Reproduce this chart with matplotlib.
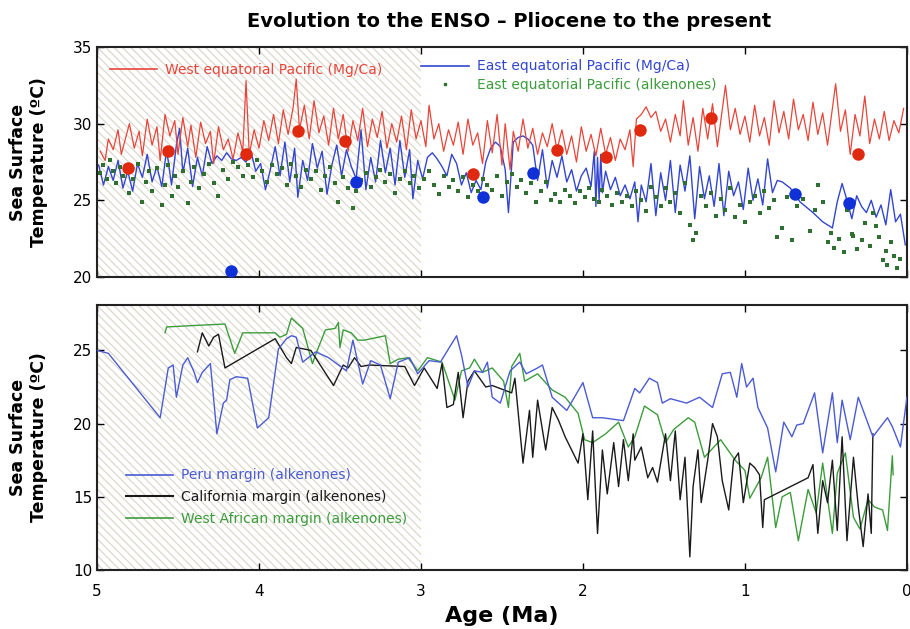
import numpy as np
import matplotlib
matplotlib.use("Agg")
import matplotlib.pyplot as plt
from matplotlib.lines import Line2D

# ---- top panel: equatorial Pacific SST (age Ma, degC) ----
west_pac_mgca = [
    (4.98, 28.2), (4.95, 27.6), (4.93, 29.0), (4.90, 28.3), (4.87, 29.6), (4.85, 28.0), (4.82, 29.2),
    (4.80, 30.0), (4.77, 28.4), (4.74, 29.5), (4.72, 27.9), (4.69, 30.3), (4.66, 28.6), (4.63, 29.8),
    (4.61, 27.6), (4.58, 30.6), (4.55, 29.2), (4.52, 30.2), (4.50, 28.0), (4.47, 30.4), (4.44, 28.5),
    (4.42, 29.9), (4.39, 27.8), (4.36, 30.1), (4.33, 28.7), (4.30, 29.5), (4.28, 27.4), (4.25, 29.8),
    (4.22, 28.3), (4.19, 29.0), (4.16, 27.7), (4.13, 29.4), (4.10, 28.2), (4.08, 32.8), (4.06, 28.0),
    (4.03, 29.6), (4.00, 28.4), (3.97, 30.2), (3.94, 28.9), (3.91, 30.6), (3.88, 28.7), (3.85, 30.9),
    (3.82, 29.3), (3.79, 31.0), (3.77, 32.9), (3.75, 29.6), (3.72, 31.2), (3.69, 29.0), (3.66, 31.5),
    (3.63, 29.4), (3.60, 30.5), (3.57, 28.6), (3.54, 31.0), (3.51, 29.0), (3.48, 30.6), (3.45, 28.2),
    (3.42, 30.2), (3.39, 28.9), (3.36, 31.0), (3.33, 28.5), (3.30, 30.3), (3.27, 29.1), (3.24, 30.8),
    (3.21, 28.4), (3.18, 30.0), (3.15, 28.8), (3.12, 30.5), (3.09, 28.3), (3.06, 30.9), (3.03, 29.0),
    (3.00, 30.2), (2.97, 28.5), (2.95, 31.2), (2.92, 29.0), (2.89, 30.0), (2.86, 28.2), (2.83, 29.6),
    (2.80, 28.6), (2.77, 30.1), (2.74, 28.0), (2.71, 30.3), (2.68, 28.6), (2.65, 29.4), (2.62, 27.4),
    (2.59, 30.2), (2.56, 28.1), (2.53, 30.6), (2.50, 27.3), (2.48, 30.0), (2.45, 27.0), (2.43, 29.5),
    (2.40, 28.2), (2.37, 30.3), (2.34, 28.4), (2.31, 29.7), (2.28, 28.0), (2.25, 29.4), (2.22, 28.5),
    (2.19, 30.0), (2.16, 28.3), (2.13, 29.6), (2.10, 28.0), (2.07, 29.2), (2.04, 27.5), (2.01, 29.8),
    (1.98, 28.2), (1.95, 29.3), (1.92, 27.9), (1.89, 29.7), (1.86, 28.0), (1.83, 29.1), (1.80, 27.6),
    (1.77, 29.0), (1.74, 28.3), (1.71, 29.6), (1.69, 27.2), (1.67, 30.3), (1.64, 30.6), (1.61, 31.1),
    (1.58, 30.4), (1.55, 30.8), (1.52, 29.5), (1.49, 30.3), (1.46, 28.8), (1.43, 30.6), (1.40, 29.2),
    (1.38, 31.5), (1.35, 28.6), (1.32, 30.4), (1.29, 28.2), (1.26, 31.0), (1.23, 29.0), (1.20, 31.3),
    (1.17, 28.5), (1.14, 30.9), (1.12, 32.5), (1.09, 29.6), (1.06, 31.0), (1.03, 29.3), (1.00, 30.5),
    (0.97, 28.8), (0.94, 31.2), (0.91, 29.2), (0.88, 30.4), (0.85, 28.6), (0.82, 31.5), (0.79, 29.4),
    (0.76, 30.8), (0.73, 29.0), (0.70, 31.6), (0.67, 29.6), (0.64, 30.6), (0.61, 28.9), (0.58, 31.4),
    (0.55, 29.3), (0.52, 30.7), (0.49, 28.6), (0.46, 31.0), (0.44, 32.6), (0.41, 29.5), (0.38, 30.9),
    (0.35, 28.0), (0.32, 30.6), (0.29, 29.2), (0.26, 31.8), (0.23, 28.7), (0.20, 30.3), (0.17, 29.0),
    (0.14, 30.8), (0.11, 28.9), (0.08, 30.2), (0.05, 29.4), (0.02, 31.0),
]

east_pac_mgca = [
    (4.99, 27.3), (4.96, 26.0), (4.93, 27.2), (4.90, 26.3), (4.87, 27.6), (4.84, 25.8), (4.81, 26.9),
    (4.78, 25.6), (4.75, 27.4), (4.72, 26.5), (4.69, 28.0), (4.66, 26.2), (4.63, 27.2), (4.60, 25.9),
    (4.57, 28.3), (4.54, 26.0), (4.51, 28.6), (4.49, 29.7), (4.47, 26.8), (4.44, 28.4), (4.41, 25.9),
    (4.38, 27.8), (4.35, 26.6), (4.32, 28.5), (4.29, 27.4), (4.26, 27.9), (4.23, 27.6), (4.20, 28.1),
    (4.17, 27.7), (4.14, 27.6), (4.11, 27.8), (4.08, 27.5), (4.05, 28.2), (4.02, 26.9), (3.99, 27.4),
    (3.96, 25.7), (3.93, 27.0), (3.90, 28.5), (3.87, 26.6), (3.84, 28.8), (3.81, 26.2), (3.78, 28.4),
    (3.76, 25.2), (3.73, 27.6), (3.70, 26.3), (3.67, 28.7), (3.64, 27.1), (3.61, 28.2), (3.58, 25.4),
    (3.55, 27.3), (3.52, 28.6), (3.49, 26.6), (3.46, 28.3), (3.43, 27.2), (3.40, 26.4), (3.37, 29.6),
    (3.34, 25.7), (3.31, 27.8), (3.28, 26.2), (3.25, 28.9), (3.22, 26.8), (3.19, 28.4), (3.16, 26.0),
    (3.13, 28.9), (3.10, 26.5), (3.07, 28.3), (3.05, 25.1), (3.02, 27.6), (2.99, 26.4), (2.96, 27.8),
    (2.93, 28.1), (2.90, 27.7), (2.87, 27.2), (2.84, 26.6), (2.81, 28.0), (2.78, 27.4), (2.75, 26.0),
    (2.72, 26.8), (2.69, 25.5), (2.66, 26.3), (2.63, 25.7), (2.60, 27.5), (2.57, 28.4), (2.54, 28.8),
    (2.51, 28.5), (2.48, 27.0), (2.46, 24.2), (2.43, 28.8), (2.40, 29.1), (2.37, 29.2), (2.34, 29.0),
    (2.31, 28.6), (2.28, 26.3), (2.25, 28.3), (2.22, 25.8), (2.19, 27.6), (2.16, 26.5), (2.13, 27.9),
    (2.10, 26.2), (2.07, 27.0), (2.04, 25.6), (2.01, 26.6), (1.98, 27.1), (1.95, 25.9), (1.93, 28.2),
    (1.92, 24.6), (1.91, 27.8), (1.90, 25.0), (1.89, 28.0), (1.88, 25.5), (1.86, 26.9), (1.83, 25.7),
    (1.80, 26.5), (1.77, 25.3), (1.74, 26.0), (1.71, 25.1), (1.68, 26.2), (1.66, 23.6), (1.64, 26.0),
    (1.61, 24.9), (1.58, 27.4), (1.55, 24.0), (1.52, 26.8), (1.49, 25.0), (1.46, 27.6), (1.43, 24.2),
    (1.40, 27.3), (1.37, 25.6), (1.34, 27.9), (1.31, 23.8), (1.28, 27.2), (1.25, 25.1), (1.22, 26.6),
    (1.19, 24.6), (1.16, 27.4), (1.13, 24.0), (1.10, 26.9), (1.07, 25.3), (1.04, 26.2), (1.01, 24.4),
    (0.98, 27.1), (0.95, 25.0), (0.92, 26.4), (0.89, 24.7), (0.86, 27.7), (0.83, 25.5), (0.80, 26.3),
    (0.77, 26.2), (0.72, 25.8), (0.66, 24.9), (0.58, 24.2), (0.52, 23.6), (0.46, 23.2), (0.43, 24.9),
    (0.40, 26.1), (0.37, 25.0), (0.34, 23.8), (0.31, 25.3), (0.28, 24.6), (0.25, 24.2), (0.22, 25.0),
    (0.19, 23.9), (0.16, 24.7), (0.13, 23.4), (0.10, 25.7), (0.07, 23.6), (0.04, 24.1), (0.01, 22.1),
]

east_pac_alk = [
    (4.98, 26.8), (4.96, 27.3), (4.94, 26.4), (4.92, 27.6), (4.90, 26.9), (4.88, 26.1), (4.86, 27.2),
    (4.84, 26.6), (4.82, 27.0), (4.80, 25.5), (4.78, 26.4), (4.75, 27.4), (4.72, 24.9), (4.70, 26.2),
    (4.68, 26.9), (4.66, 25.6), (4.63, 27.1), (4.60, 24.7), (4.58, 26.0), (4.56, 27.3), (4.54, 25.3),
    (4.52, 26.6), (4.50, 25.9), (4.47, 26.9), (4.44, 24.8), (4.42, 26.2), (4.40, 27.2), (4.37, 25.8),
    (4.34, 26.7), (4.31, 27.4), (4.28, 26.1), (4.25, 25.3), (4.22, 27.0), (4.19, 26.4), (4.16, 27.5),
    (4.13, 27.2), (4.10, 26.6), (4.07, 27.3), (4.04, 26.5), (4.01, 27.6), (3.98, 26.9), (3.95, 26.2),
    (3.92, 27.3), (3.89, 26.7), (3.86, 27.1), (3.83, 26.0), (3.80, 27.4), (3.77, 26.6), (3.74, 25.9),
    (3.71, 27.0), (3.68, 26.4), (3.65, 26.9), (3.62, 25.7), (3.59, 26.6), (3.56, 27.2), (3.53, 26.1),
    (3.51, 24.9), (3.48, 26.5), (3.45, 25.8), (3.42, 24.5), (3.40, 25.6), (3.37, 26.3), (3.34, 26.8),
    (3.31, 25.9), (3.28, 26.5), (3.25, 27.0), (3.22, 26.2), (3.19, 26.7), (3.16, 25.5), (3.13, 26.4),
    (3.10, 26.9), (3.07, 26.1), (3.04, 26.6), (3.01, 25.8), (2.98, 26.4), (2.95, 26.9), (2.92, 26.0),
    (2.89, 25.4), (2.86, 26.6), (2.83, 25.9), (2.80, 26.3), (2.77, 25.6), (2.74, 26.5), (2.71, 25.2),
    (2.68, 26.0), (2.65, 25.6), (2.62, 26.4), (2.59, 26.0), (2.56, 25.7), (2.53, 26.6), (2.50, 25.3),
    (2.47, 26.2), (2.44, 26.7), (2.41, 25.9), (2.38, 26.3), (2.35, 25.5), (2.32, 26.1), (2.29, 24.9),
    (2.26, 25.6), (2.23, 26.2), (2.20, 25.0), (2.17, 25.4), (2.14, 24.9), (2.11, 25.7), (2.08, 25.3),
    (2.05, 24.8), (2.02, 25.6), (1.99, 25.2), (1.96, 25.8), (1.93, 25.1), (1.90, 24.9), (1.88, 25.7),
    (1.85, 25.3), (1.82, 24.7), (1.79, 25.5), (1.76, 24.9), (1.73, 25.3), (1.70, 24.6), (1.67, 25.6),
    (1.64, 25.0), (1.61, 24.3), (1.58, 25.9), (1.55, 25.2), (1.52, 24.6), (1.49, 25.8), (1.46, 24.9),
    (1.43, 25.5), (1.40, 24.2), (1.37, 26.1), (1.34, 23.4), (1.32, 22.4), (1.30, 22.9), (1.27, 25.3),
    (1.24, 24.6), (1.21, 25.5), (1.18, 24.0), (1.15, 25.1), (1.12, 24.4), (1.09, 25.8), (1.06, 23.9),
    (1.03, 24.7), (1.00, 23.6), (0.97, 24.9), (0.94, 25.3), (0.91, 24.2), (0.88, 25.6), (0.85, 24.5),
    (0.82, 25.0), (0.80, 22.6), (0.77, 23.2), (0.74, 25.2), (0.71, 22.4), (0.68, 24.6), (0.64, 25.1),
    (0.60, 23.0), (0.57, 24.4), (0.55, 26.0), (0.52, 24.9), (0.49, 22.3), (0.47, 22.9), (0.45, 21.9),
    (0.42, 22.5), (0.39, 21.6), (0.37, 24.4), (0.34, 22.8), (0.33, 22.7), (0.31, 21.8), (0.28, 22.4),
    (0.26, 23.5), (0.23, 22.0), (0.21, 24.2), (0.19, 23.3), (0.17, 22.6), (0.15, 21.1), (0.13, 21.7),
    (0.12, 20.8), (0.10, 22.3), (0.08, 21.4), (0.06, 20.6), (0.04, 21.2),
]

# big dots
west_dots_age = [4.81, 4.56, 4.08, 3.76, 3.47, 2.68, 2.16, 1.86, 1.65, 1.21, 0.30]
west_dots_sst = [27.1, 28.2, 28.0, 29.5, 28.9, 26.7, 28.3, 27.8, 29.6, 30.4, 28.0]
east_dots_age = [4.17, 3.40, 2.62, 2.31, 0.69, 0.36]
east_dots_sst = [20.4, 26.2, 25.2, 26.8, 25.4, 24.8]

# ---- bottom panel: coastal upwelling margins ----
peru = [
    (5.00, 25.0), (4.93, 24.8), (4.61, 20.4), (4.56, 23.8), (4.53, 24.0), (4.51, 21.8), (4.47, 24.0),
    (4.44, 24.5), (4.40, 23.5), (4.38, 22.8), (4.35, 23.5), (4.30, 24.1), (4.26, 19.3), (4.22, 21.4),
    (4.20, 21.6), (4.18, 23.0), (4.14, 23.2), (4.07, 23.1), (4.01, 19.7), (3.94, 20.4), (3.88, 25.1),
    (3.83, 25.8), (3.80, 26.0), (3.77, 25.9), (3.73, 24.2), (3.65, 24.9), (3.57, 24.5), (3.46, 23.6),
    (3.42, 25.7), (3.36, 22.7), (3.31, 24.3), (3.25, 24.0), (3.19, 21.7), (3.14, 24.2), (3.07, 24.5),
    (3.02, 23.4), (2.95, 24.3), (2.88, 24.2), (2.78, 26.0), (2.75, 24.7), (2.71, 22.5), (2.67, 23.6),
    (2.62, 23.5), (2.59, 24.2), (2.56, 21.8), (2.51, 21.4), (2.45, 23.6), (2.39, 24.2), (2.35, 23.4),
    (2.28, 23.8), (2.25, 24.0), (2.19, 21.8), (2.10, 20.9), (2.00, 22.8), (1.94, 20.4), (1.88, 20.4),
    (1.75, 20.2), (1.68, 22.4), (1.65, 22.1), (1.59, 23.1), (1.54, 22.8), (1.51, 21.4), (1.46, 21.7),
    (1.36, 21.4), (1.28, 21.8), (1.20, 21.1), (1.14, 23.4), (1.09, 23.5), (1.05, 21.8), (1.02, 24.1),
    (0.99, 22.5), (0.95, 23.1), (0.92, 21.1), (0.86, 19.7), (0.81, 16.7), (0.76, 20.1), (0.71, 19.1),
    (0.68, 19.9), (0.64, 20.0), (0.57, 22.1), (0.52, 18.0), (0.46, 22.1), (0.43, 18.7), (0.40, 21.6),
    (0.35, 18.9), (0.30, 21.8), (0.21, 19.1), (0.12, 20.4), (0.09, 19.8), (0.04, 18.4), (0.00, 21.8),
]

california = [
    (4.38, 24.9), (4.35, 26.2), (4.31, 25.3), (4.28, 25.9), (4.25, 26.1), (4.21, 23.8), (3.90, 25.8),
    (3.83, 24.5), (3.80, 24.1), (3.77, 25.2), (3.68, 25.0), (3.54, 22.6), (3.48, 24.0), (3.45, 23.8),
    (3.41, 24.5), (3.37, 23.9), (3.32, 24.0), (3.10, 23.9), (3.04, 22.6), (2.98, 23.8), (2.90, 22.4),
    (2.87, 24.1), (2.84, 21.1), (2.80, 21.3), (2.77, 23.5), (2.74, 20.4), (2.71, 22.9), (2.67, 23.6),
    (2.60, 22.5), (2.56, 22.6), (2.44, 22.1), (2.42, 23.1), (2.37, 17.3), (2.33, 20.9), (2.31, 17.7),
    (2.28, 21.6), (2.23, 18.2), (2.19, 21.1), (2.15, 20.2), (2.11, 19.1), (2.03, 17.3), (2.00, 19.3),
    (1.97, 14.8), (1.94, 19.5), (1.91, 12.5), (1.88, 18.2), (1.85, 15.2), (1.81, 18.7), (1.78, 15.7),
    (1.75, 18.9), (1.72, 16.1), (1.69, 19.3), (1.68, 17.5), (1.64, 18.4), (1.60, 16.3), (1.57, 17.0),
    (1.54, 16.0), (1.49, 19.3), (1.46, 16.1), (1.43, 19.5), (1.40, 14.8), (1.37, 17.7), (1.34, 10.9),
    (1.32, 15.7), (1.29, 18.2), (1.27, 14.6), (1.23, 17.5), (1.20, 20.0), (1.17, 19.1), (1.14, 16.1),
    (1.10, 14.1), (1.07, 17.5), (1.04, 18.0), (1.01, 14.6), (0.97, 17.3), (0.94, 17.0), (0.91, 16.5),
    (0.89, 12.9), (0.88, 14.8), (0.61, 16.3), (0.58, 17.2), (0.55, 12.5), (0.52, 16.1), (0.49, 14.6),
    (0.46, 17.5), (0.43, 12.7), (0.40, 19.1), (0.37, 12.0), (0.33, 17.7), (0.30, 14.3), (0.27, 11.6),
    (0.24, 15.2), (0.22, 12.5), (0.21, 19.3),
]

west_africa = [
    (4.58, 26.2), (4.57, 26.6), (4.40, 26.7), (4.21, 26.8), (4.15, 24.8), (4.10, 26.2), (3.90, 26.2),
    (3.87, 25.9), (3.83, 26.1), (3.80, 27.2), (3.73, 26.5), (3.67, 24.1), (3.64, 25.0), (3.59, 26.4),
    (3.53, 26.5), (3.51, 26.9), (3.50, 25.2), (3.48, 26.4), (3.43, 26.2), (3.39, 25.7), (3.35, 25.7),
    (3.22, 26.0), (3.19, 24.1), (3.14, 24.4), (3.08, 24.5), (3.02, 23.6), (2.96, 24.5), (2.87, 24.2),
    (2.79, 21.6), (2.75, 23.6), (2.70, 23.8), (2.67, 24.4), (2.62, 23.5), (2.56, 23.8), (2.49, 22.9),
    (2.46, 21.1), (2.44, 23.9), (2.39, 24.8), (2.36, 22.9), (2.28, 23.4), (2.19, 22.3), (2.11, 21.8),
    (2.03, 20.7), (1.99, 18.9), (1.94, 18.7), (1.86, 19.3), (1.78, 20.1), (1.72, 18.4), (1.68, 19.1),
    (1.62, 21.2), (1.54, 20.6), (1.49, 18.7), (1.44, 19.6), (1.35, 20.4), (1.31, 20.1), (1.25, 17.7),
    (1.15, 18.9), (1.06, 17.5), (1.00, 16.8), (0.97, 14.9), (0.90, 16.3), (0.86, 17.7), (0.81, 12.9),
    (0.77, 15.0), (0.72, 15.3), (0.67, 12.0), (0.61, 15.5), (0.56, 13.9), (0.52, 17.3), (0.46, 12.5),
    (0.43, 16.6), (0.38, 18.0), (0.33, 13.6), (0.29, 12.8), (0.24, 14.8), (0.20, 14.3), (0.15, 14.1),
    (0.12, 12.7), (0.09, 17.8), (0.085, 16.5),
]

wp_age, wp_sst = np.array(west_pac_mgca).T
ep_age, ep_sst = np.array(east_pac_mgca).T
ea_age, ea_sst = np.array(east_pac_alk).T
pe_age, pe_sst = np.array(peru).T
ca_age, ca_sst = np.array(california).T
wa_age, wa_sst = np.array(west_africa).T

RED = '#e8453a'
BLUE = '#3346cf'
DKGREEN = '#2f6f2f'
BLUE2 = '#4a5bd4'
GREEN2 = '#3c9c3c'

plt.rcParams['hatch.linewidth'] = 0.9

fig = plt.figure(figsize=(9.10, 6.29), dpi=100)
ax1 = fig.add_axes([0.1066, 0.5596, 0.890, 0.3657])
ax2 = fig.add_axes([0.1066, 0.0938, 0.890, 0.4213])

for ax in (ax1, ax2):
    ax.axvspan(3, 5, facecolor='none', edgecolor='#dcd8cb', hatch='\\\\\\\\', lw=0, zorder=0)
    ax.set_xlim(5, 0)
    ax.tick_params(direction='in', top=True, right=True, length=5, width=1, labelsize=11)
    for s in ax.spines.values():
        s.set_linewidth(1.5)
        s.set_color('#222222')
    ax.set_xticks([5, 4, 3, 2, 1, 0])

# top panel
ax1.plot(wp_age, wp_sst, color=RED, lw=0.9, zorder=3)
ax1.plot(ep_age, ep_sst, color=BLUE, lw=1.0, zorder=2)
ax1.plot(ea_age, ea_sst, 's', color=DKGREEN, ms=2.2, mew=0, zorder=4)
ax1.plot(west_dots_age, west_dots_sst, 'o', color='#e02a10', ms=9, mew=0, zorder=5)
ax1.plot(east_dots_age, east_dots_sst, 'o', color='#1030d8', ms=9, mew=0, zorder=5)
ax1.set_ylim(20, 35)
ax1.set_yticks([20, 25, 30, 35])
ax1.tick_params(labelbottom=False)
ax1.set_ylabel('Sea Surface\nTemperature (ºC)', fontsize=12.5, fontweight='bold', labelpad=18)

leg1 = ax1.legend([Line2D([], [], color=RED, lw=1.2)], ['West equatorial Pacific (Mg/Ca)'],
                  loc='upper left', bbox_to_anchor=(0.0, 0.985), frameon=False, fontsize=10,
                  handlelength=3.4, handletextpad=0.6, borderaxespad=0.5)
for t in leg1.get_texts():
    t.set_color(RED)
ax1.add_artist(leg1)
leg2 = ax1.legend([Line2D([], [], color=BLUE, lw=1.2),
                   Line2D([], [], ls='none', marker='s', color=DKGREEN, ms=2)],
                  ['East equatorial Pacific (Mg/Ca)', 'East equatorial Pacific (alkenones)'],
                  loc='upper left', bbox_to_anchor=(0.385, 1.0), frameon=False, fontsize=10,
                  handlelength=3.4, handletextpad=0.6, labelspacing=0.35)
leg2.get_texts()[0].set_color(BLUE)
leg2.get_texts()[1].set_color(GREEN2)

# bottom panel
ax2.plot(pe_age, pe_sst, color=BLUE2, lw=1.0, zorder=3)
ax2.plot(wa_age, wa_sst, color=GREEN2, lw=1.0, zorder=2)
ax2.plot(ca_age, ca_sst, color='#1a1a1a', lw=1.0, zorder=2)
ax2.set_ylim(10, 28.1)
ax2.set_yticks([10, 15, 20, 25])
ax2.set_ylabel('Sea Surface\nTemperature (ºC)', fontsize=12.5, fontweight='bold', labelpad=18)
ax2.set_xlabel('Age (Ma)', fontsize=16, fontweight='bold', labelpad=5)
ax2.tick_params(axis='x', pad=10)

leg3 = ax2.legend([Line2D([], [], color=BLUE2, lw=1.2), Line2D([], [], color='#1a1a1a', lw=1.5),
                   Line2D([], [], color=GREEN2, lw=1.2)],
                  ['Peru margin (alkenones)', 'California margin (alkenones)',
                   'West African margin (alkenones)'],
                  loc='lower left', bbox_to_anchor=(0.02, 0.12), frameon=False, fontsize=10,
                  handlelength=3.4, handletextpad=0.6, labelspacing=0.55)
for t, c in zip(leg3.get_texts(), [BLUE2, '#1a1a1a', GREEN2]):
    t.set_color(c)

fig.text(0.56, 0.966, 'Evolution to the ENSO \u2013 Pliocene to the present', ha='center',
         va='center', fontsize=14, fontweight='bold')

fig.savefig('out.png', dpi=100)
